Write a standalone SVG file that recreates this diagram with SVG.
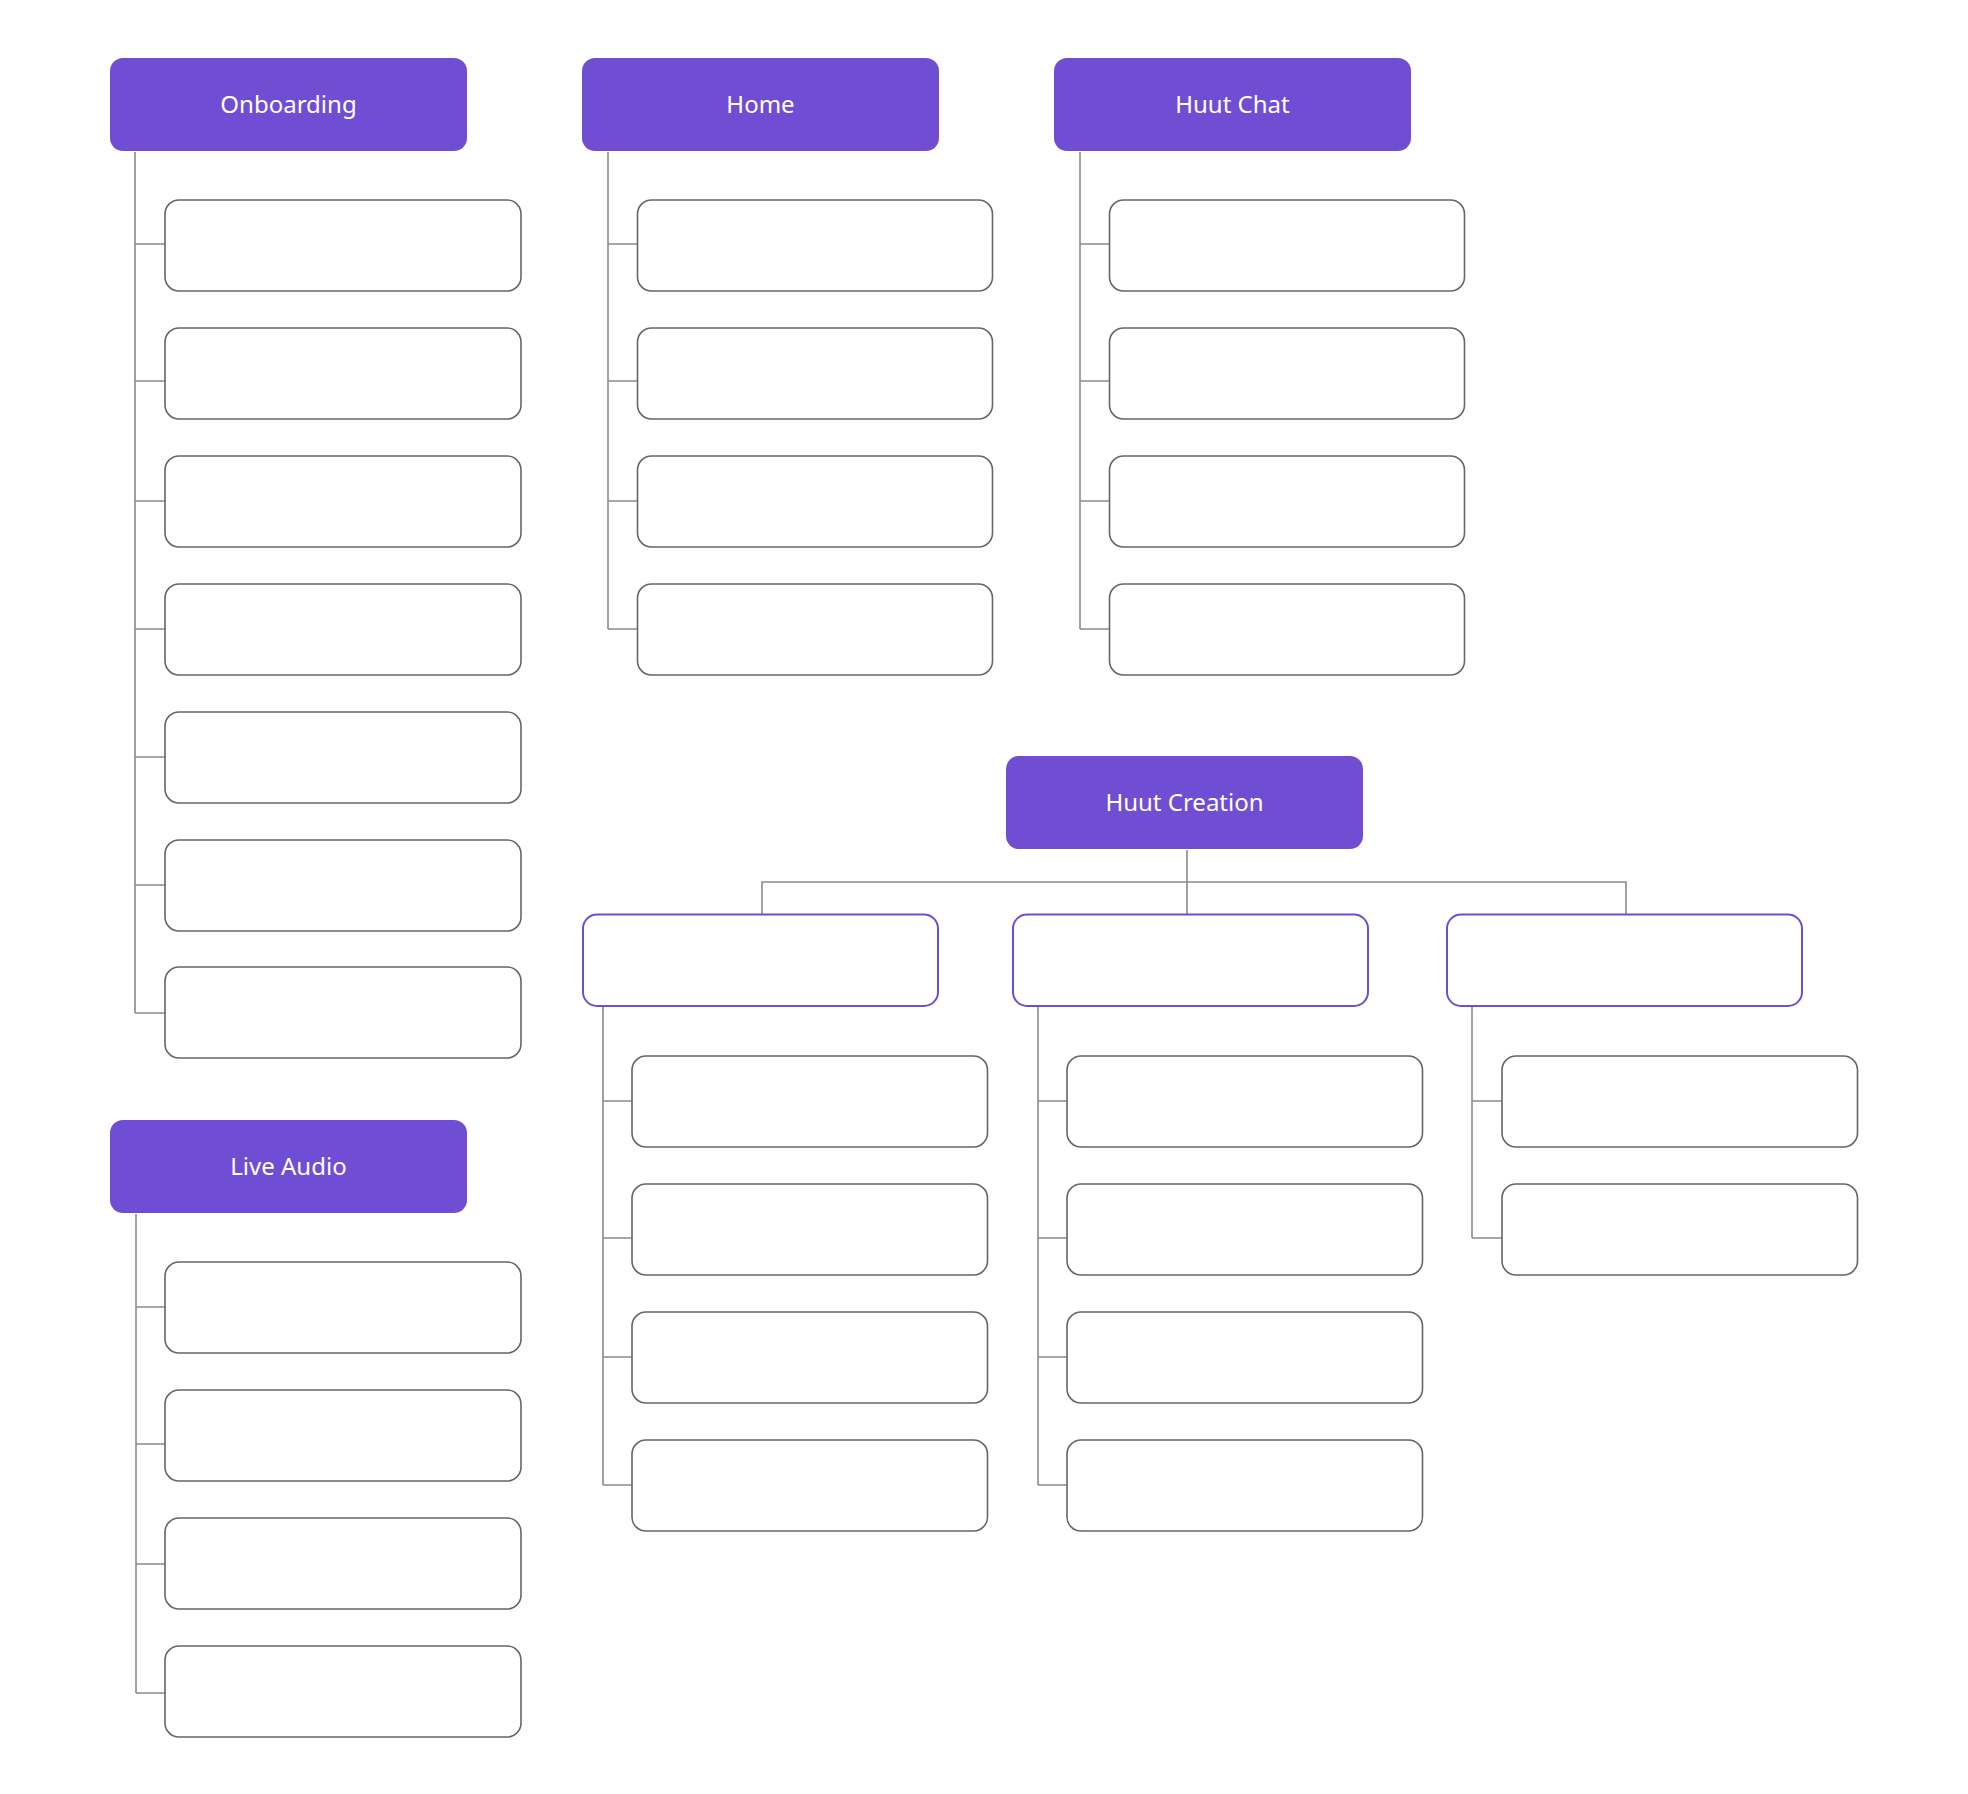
<svg xmlns="http://www.w3.org/2000/svg" width="1968" height="1794" viewBox="0 0 1968 1794">
<style>
.hd{fill:#704ED3;}
.hdt{fill:#FFFFFF;font-family:"Noto Sans","Open Sans","Liberation Sans",sans-serif;font-size:24px;text-anchor:middle;}
.ch{fill:#FFFFFF;stroke:#666666;stroke-width:1.6;}
.pc{fill:#FFFFFF;stroke:#704ED3;stroke-width:2;}
.ln{fill:none;stroke:#8A8A8A;stroke-width:1.6;}
</style>
<rect width="1968" height="1794" fill="#FFFFFF"/>
<g id="connectors" class="ln">
<path d="M135 152V1013M135 244H165M135 381H165M135 501H165M135 629H165M135 757H165M135 885H165M135 1013H165"/>
<path d="M608 152V629M608 244H637M608 381H637M608 501H637M608 629H637"/>
<path d="M1080 152V629M1080 244H1109M1080 381H1109M1080 501H1109M1080 629H1109"/>
<path d="M1187 850V914M762 914V882H1626V914"/>
<path d="M603 1007V1485M603 1101H632M603 1238H632M603 1357H632M603 1485H632"/>
<path d="M1038 1007V1485M1038 1101H1067M1038 1238H1067M1038 1357H1067M1038 1485H1067"/>
<path d="M1472 1007V1238M1472 1101H1502M1472 1238H1502"/>
<path d="M136 1214V1693M136 1307H165M136 1444H165M136 1564H165M136 1693H165"/>
</g>
<g id="onboarding"><rect class="hd" x="110" y="58" width="357" height="93" rx="13"/><text class="hdt" x="288.5" y="113">Onboarding</text></g>
<g id="onboarding-1"><rect class="ch" x="165" y="200" width="356" height="91" rx="14"/></g>
<g id="onboarding-2"><rect class="ch" x="165" y="328" width="356" height="91" rx="14"/></g>
<g id="onboarding-3"><rect class="ch" x="165" y="456" width="356" height="91" rx="14"/></g>
<g id="onboarding-4"><rect class="ch" x="165" y="584" width="356" height="91" rx="14"/></g>
<g id="onboarding-5"><rect class="ch" x="165" y="712" width="356" height="91" rx="14"/></g>
<g id="onboarding-6"><rect class="ch" x="165" y="840" width="356" height="91" rx="14"/></g>
<g id="onboarding-7"><rect class="ch" x="165" y="967" width="356" height="91" rx="14"/></g>
<g id="home"><rect class="hd" x="582" y="58" width="357" height="93" rx="13"/><text class="hdt" x="760.5" y="113">Home</text></g>
<g id="home-1"><rect class="ch" x="637.5" y="200" width="355" height="91" rx="14"/></g>
<g id="home-2"><rect class="ch" x="637.5" y="328" width="355" height="91" rx="14"/></g>
<g id="home-3"><rect class="ch" x="637.5" y="456" width="355" height="91" rx="14"/></g>
<g id="home-4"><rect class="ch" x="637.5" y="584" width="355" height="91" rx="14"/></g>
<g id="huut-chat"><rect class="hd" x="1054" y="58" width="357" height="93" rx="13"/><text class="hdt" x="1232.5" y="113">Huut Chat</text></g>
<g id="chat-1"><rect class="ch" x="1109.5" y="200" width="355" height="91" rx="14"/></g>
<g id="chat-2"><rect class="ch" x="1109.5" y="328" width="355" height="91" rx="14"/></g>
<g id="chat-3"><rect class="ch" x="1109.5" y="456" width="355" height="91" rx="14"/></g>
<g id="chat-4"><rect class="ch" x="1109.5" y="584" width="355" height="91" rx="14"/></g>
<g id="huut-creation"><rect class="hd" x="1006" y="756" width="357" height="93" rx="13"/><text class="hdt" x="1184.5" y="811">Huut Creation</text></g>
<g id="creation-a"><rect class="pc" x="583" y="914.5" width="355" height="91.5" rx="14"/></g>
<g id="creation-b"><rect class="pc" x="1013" y="914.5" width="355" height="91.5" rx="14"/></g>
<g id="creation-c"><rect class="pc" x="1447" y="914.5" width="355" height="91.5" rx="14"/></g>
<g id="creation-a-1"><rect class="ch" x="632" y="1056" width="355.5" height="91" rx="14"/></g>
<g id="creation-a-2"><rect class="ch" x="632" y="1184" width="355.5" height="91" rx="14"/></g>
<g id="creation-a-3"><rect class="ch" x="632" y="1312" width="355.5" height="91" rx="14"/></g>
<g id="creation-a-4"><rect class="ch" x="632" y="1440" width="355.5" height="91" rx="14"/></g>
<g id="creation-b-1"><rect class="ch" x="1067" y="1056" width="355.5" height="91" rx="14"/></g>
<g id="creation-b-2"><rect class="ch" x="1067" y="1184" width="355.5" height="91" rx="14"/></g>
<g id="creation-b-3"><rect class="ch" x="1067" y="1312" width="355.5" height="91" rx="14"/></g>
<g id="creation-b-4"><rect class="ch" x="1067" y="1440" width="355.5" height="91" rx="14"/></g>
<g id="creation-c-1"><rect class="ch" x="1502" y="1056" width="355.5" height="91" rx="14"/></g>
<g id="creation-c-2"><rect class="ch" x="1502" y="1184" width="355.5" height="91" rx="14"/></g>
<g id="live-audio"><rect class="hd" x="110" y="1120" width="357" height="93" rx="13"/><text class="hdt" x="288.5" y="1175">Live Audio</text></g>
<g id="audio-1"><rect class="ch" x="165" y="1262" width="356" height="91" rx="14"/></g>
<g id="audio-2"><rect class="ch" x="165" y="1390" width="356" height="91" rx="14"/></g>
<g id="audio-3"><rect class="ch" x="165" y="1518" width="356" height="91" rx="14"/></g>
<g id="audio-4"><rect class="ch" x="165" y="1646" width="356" height="91" rx="14"/></g>
</svg>
